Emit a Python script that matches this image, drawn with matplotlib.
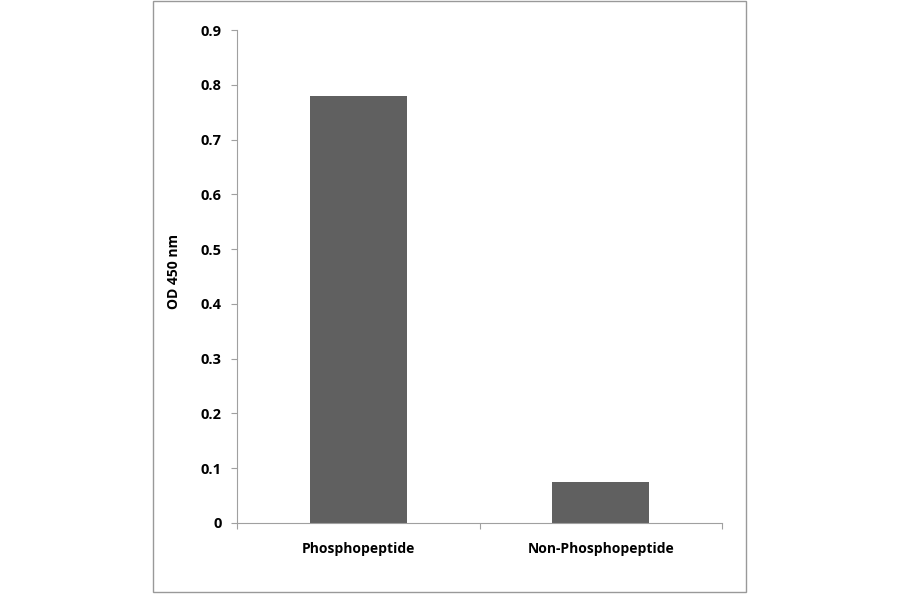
import matplotlib.pyplot as plt
from matplotlib.patches import Rectangle

categories = ["Phosphopeptide", "Non-Phosphopeptide"]
od_values = [0.780, 0.074]
y_ticks = [0, 0.1, 0.2, 0.3, 0.4, 0.5, 0.6, 0.7, 0.8, 0.9]
y_tick_labels = ["0", "0.1", "0.2", "0.3", "0.4", "0.5", "0.6", "0.7", "0.8", "0.9"]

plt.rcParams["font.family"] = ["Open Sans", "DejaVu Sans"]

W, H = 900, 594
fig = plt.figure(figsize=(9, 5.94), dpi=100)
ax = fig.add_axes([237 / W, 1 - 523 / H, (722 - 237) / W, (523 - 30) / H])

x = list(range(len(categories)))
ax.bar(x, od_values, width=0.4, color="#606060")

ax.set_xlim(-0.5, 1.5)
ax.set_ylim(0, 0.9)
ax.set_yticks(y_ticks)
ax.set_yticklabels(y_tick_labels, fontsize=10.5, fontweight="bold")
ax.set_xticks([-0.5, 0.5, 1.5])
ax.set_xticklabels([])
ax.set_xticks(x, minor=True)
ax.set_xticklabels(categories, minor=True, fontsize=10, fontweight="bold")
ax.tick_params(axis="x", which="minor", length=0, pad=14)
ax.tick_params(axis="x", which="major", length=4, color="#a0a0a0")
ax.tick_params(axis="y", length=4, color="#a0a0a0", pad=7)

for side in ["top", "right"]:
    ax.spines[side].set_visible(False)
for side in ["left", "bottom"]:
    ax.spines[side].set_color("#a0a0a0")

ax.set_ylabel("OD 450 nm", fontsize=10, fontweight="bold", labelpad=8)
ax.yaxis.set_label_coords(-0.115, 0.51)

fig.patches.append(Rectangle((153 / W, 1 - 592 / H), (746 - 153) / W, (592 - 1) / H,
                             transform=fig.transFigure, fill=False,
                             edgecolor="#999999", linewidth=1))

fig.savefig("out.png", dpi=100)
